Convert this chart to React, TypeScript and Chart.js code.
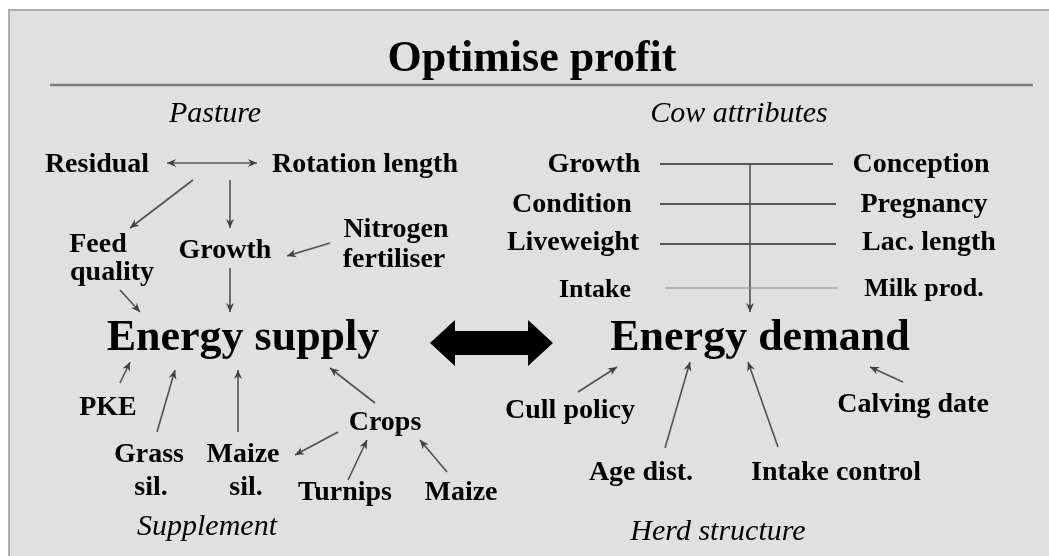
import React, { useEffect, useRef } from "react";
import { Chart, registerables } from "chart.js";

Chart.register(...registerables);

const W = 1049;
const H = 556;

// ---- text labels (centre x, baseline y in diagram units) ----
const titleLabels = ["Optimise profit"];
const titleX = [532];
const titleY = [71];

const sectionLabels = ["Pasture", "Cow attributes", "Supplement", "Herd structure"];
const sectionX = [215, 739, 207, 718];
const sectionY = [122, 122, 535, 540];

const hubLabels = ["Energy supply", "Energy demand"];
const hubX = [243, 760];
const hubY = [350, 350];

const factorLabels = [
  "Residual", "Rotation length", "Feed", "quality", "Growth", "Nitrogen", "fertiliser",
  "Growth", "Condition", "Liveweight", "Intake",
  "Conception", "Pregnancy", "Lac. length", "Milk prod.",
  "PKE", "Crops", "Grass", "sil.", "Maize", "sil.", "Turnips", "Maize",
  "Cull policy", "Age dist.", "Intake control", "Calving date",
];
const factorX = [
  97, 365, 98, 112, 225, 396, 394,
  594, 572, 573, 595,
  921, 924, 929, 924,
  108, 385, 149, 151, 243, 246, 345, 461,
  570, 641, 836, 913,
];
const factorY = [
  172, 172, 252, 280, 258, 237, 267,
  172, 212, 250, 297,
  172, 212, 250, 296,
  415, 430, 462, 495, 462, 495, 500, 500,
  418, 480, 480, 412,
];
const factorSmall = [
  false, false, false, false, false, false, false,
  false, false, false, true,
  false, false, false, true,
  false, false, false, false, false, false, false, false,
  false, false, false, false,
];

// ---- arrows: start (x1,y1) -> end (x2,y2) ----
const arrowX1 = [167, 193, 230, 330, 230, 120, 120, 157, 238, 375, 338, 348, 447, 578, 665, 778, 903, 750];
const arrowY1 = [163, 180, 180, 243, 268, 290, 383, 432, 432, 403, 432, 480, 472, 392, 448, 447, 382, 164];
const arrowX2 = [257, 130, 230, 287, 230, 140, 130, 175, 238, 330, 295, 367, 420, 617, 690, 748, 870, 750];
const arrowY2 = [163, 228, 228, 256, 312, 312, 362, 370, 370, 368, 455, 440, 440, 367, 362, 362, 367, 312];
const arrowBoth = [true, false, false, false, false, false, false, false, false, false, false, false, false, false, false, false, false, false];

// ---- plain connector lines (cow attributes) ----
const linkX1 = [660, 660, 660, 665];
const linkX2 = [833, 836, 836, 838];
const linkY = [164, 204, 244, 288];

// ---- title rule and the big two-way arrow ----
const ruleX = [50, 1033];
const ruleY = 85;
const bigArrowX = [430, 553];
const bigArrowY = 343;

const SERIF = '"Liberation Serif", "Times New Roman", serif';

const App: React.FC = () => {
  const ref = useRef<HTMLCanvasElement | null>(null);

  useEffect(() => {
    const canvas = ref.current;
    if (!canvas) return;

    const datasets: any[] = [];
    datasets.push({
      data: [{ x: ruleX[0], y: ruleY }, { x: ruleX[1], y: ruleY }],
      showLine: true, borderColor: "#7d7f7f", borderWidth: 2.5, pointRadius: 0, kind: "rule",
    });
    linkY.forEach((y, i) => {
      datasets.push({
        data: [{ x: linkX1[i], y }, { x: linkX2[i], y }],
        showLine: true,
        borderColor: i === 3 ? "#8a8c8c" : "#555757",
        borderWidth: i === 3 ? 1.2 : 1.8,
        pointRadius: 0,
        kind: "link",
      });
    });
    arrowX1.forEach((x1, i) => {
      datasets.push({
        data: [{ x: x1, y: arrowY1[i] }, { x: arrowX2[i], y: arrowY2[i] }],
        showLine: true, borderColor: "#505252", borderWidth: 1.6, pointRadius: 0,
        kind: "arrow", both: arrowBoth[i],
      });
    });

    const drawHead = (ctx: CanvasRenderingContext2D, fx: number, fy: number, tx: number, ty: number) => {
      const a = Math.atan2(ty - fy, tx - fx);
      const L = 9, w = 4;
      ctx.beginPath();
      ctx.moveTo(tx, ty);
      ctx.lineTo(tx - L * Math.cos(a) + w * Math.sin(a), ty - L * Math.sin(a) - w * Math.cos(a));
      ctx.lineTo(tx - L * 0.7 * Math.cos(a), ty - L * 0.7 * Math.sin(a));
      ctx.lineTo(tx - L * Math.cos(a) - w * Math.sin(a), ty - L * Math.sin(a) + w * Math.cos(a));
      ctx.closePath();
      ctx.fill();
    };

    const diagramPlugin = {
      id: "diagram",
      beforeDraw(chart: any) {
        const { ctx } = chart;
        const xs = chart.scales.x, ys = chart.scales.y;
        ctx.save();
        ctx.fillStyle = "#ffffff";
        ctx.fillRect(0, 0, chart.width, chart.height);
        const px = xs.getPixelForValue(8), py = ys.getPixelForValue(9);
        ctx.fillStyle = "#dfe0df";
        ctx.fillRect(px, py, chart.width - px, chart.height - py);
        ctx.strokeStyle = "#acadad";
        ctx.lineWidth = 2;
        ctx.beginPath();
        ctx.moveTo(px + 1, chart.height);
        ctx.lineTo(px + 1, py + 1);
        ctx.lineTo(chart.width, py + 1);
        ctx.stroke();
        ctx.restore();
      },
      afterDatasetsDraw(chart: any) {
        const { ctx } = chart;
        const xs = chart.scales.x, ys = chart.scales.y;
        ctx.save();
        ctx.fillStyle = "#404242";
        chart.data.datasets.forEach((ds: any, i: number) => {
          if (ds.kind !== "arrow") return;
          const pts = chart.getDatasetMeta(i).data;
          const p0 = pts[0], p1 = pts[1];
          drawHead(ctx, p0.x, p0.y, p1.x, p1.y);
          if (ds.both) drawHead(ctx, p1.x, p1.y, p0.x, p0.y);
        });
        const l = xs.getPixelForValue(bigArrowX[0]);
        const r = xs.getPixelForValue(bigArrowX[1]);
        const cy = ys.getPixelForValue(bigArrowY);
        const head = 25, shaft = 12, hh = 23;
        ctx.fillStyle = "#000";
        ctx.beginPath();
        ctx.moveTo(l, cy);
        ctx.lineTo(l + head, cy - hh);
        ctx.lineTo(l + head, cy - shaft);
        ctx.lineTo(r - head, cy - shaft);
        ctx.lineTo(r - head, cy - hh);
        ctx.lineTo(r, cy);
        ctx.lineTo(r - head, cy + hh);
        ctx.lineTo(r - head, cy + shaft);
        ctx.lineTo(l + head, cy + shaft);
        ctx.lineTo(l + head, cy + hh);
        ctx.closePath();
        ctx.fill();

        ctx.textAlign = "center";
        ctx.textBaseline = "alphabetic";
        ctx.fillStyle = "#000";
        ctx.filter = "blur(0.5px)";
        const put = (t: string, x: number, y: number, font: string) => {
          ctx.font = font;
          ctx.fillText(t, xs.getPixelForValue(x), ys.getPixelForValue(y));
        };
        titleLabels.forEach((t, i) => put(t, titleX[i], titleY[i], `bold 44px ${SERIF}`));
        hubLabels.forEach((t, i) => put(t, hubX[i], hubY[i], `bold 44px ${SERIF}`));
        sectionLabels.forEach((t, i) => put(t, sectionX[i], sectionY[i], `italic 30px ${SERIF}`));
        factorLabels.forEach((t, i) =>
          put(t, factorX[i], factorY[i], `bold ${factorSmall[i] ? 26 : 28}px ${SERIF}`)
        );
        ctx.filter = "none";
        ctx.restore();
      },
    };

    const chart = new Chart(canvas, {
      type: "scatter",
      data: { datasets },
      options: {
        animation: false,
        responsive: false,
        events: [],
        layout: { padding: 0 },
        plugins: { legend: { display: false }, tooltip: { enabled: false } },
        scales: {
          x: { type: "linear", min: 0, max: W, display: false },
          y: { type: "linear", min: 0, max: H, reverse: true, display: false },
        },
      },
      plugins: [diagramPlugin],
    });
    return () => chart.destroy();
  }, []);

  return (
    <div style={{ position: "fixed", left: 0, top: 0, width: W, height: H, background: "#fff" }}>
      <canvas ref={ref} width={W} height={H} style={{ width: W, height: H, display: "block" }} />
    </div>
  );
};

export default App;
